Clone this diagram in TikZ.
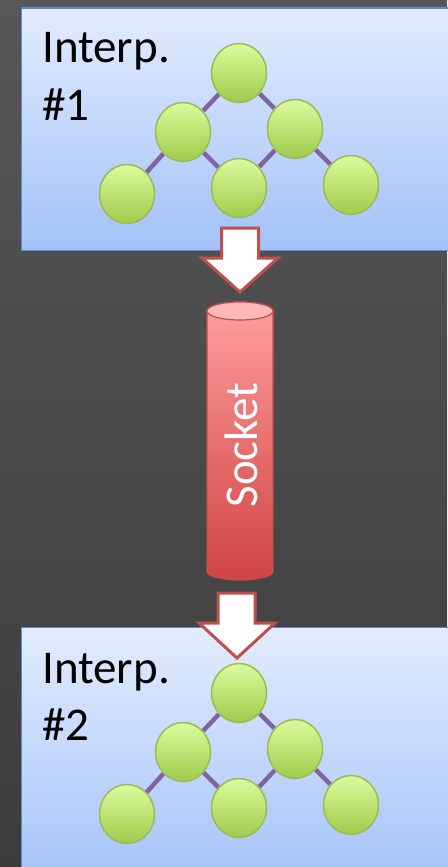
\documentclass[tikz,border=0pt]{standalone}
\usepackage{fontspec}
\setmainfont{Carlito}
\usetikzlibrary{shapes.geometric}
\pgfdeclarelayer{bglayer}
\pgfdeclarelayer{edgelayer}
\pgfsetlayers{bglayer,edgelayer,main}
\definecolor{bgtop}{HTML}{575757}
\definecolor{bgbot}{HTML}{3C3C3C}
\definecolor{boxtop}{HTML}{E2ECFE}
\definecolor{boxbot}{HTML}{A3C2F8}
\definecolor{boxline}{HTML}{5B8BD0}
\definecolor{balltop}{HTML}{DCFB9C}
\definecolor{ballbot}{HTML}{9FCB4C}
\definecolor{ballline}{HTML}{9BBB59}
\definecolor{edgecol}{HTML}{8064A2}
\definecolor{arrline}{HTML}{C0504D}
\definecolor{cyltop}{HTML}{FF9E9E}
\definecolor{cylbot}{HTML}{D04444}
\definecolor{cylcap}{HTML}{FFB8B8}
\tikzset{
  ball/.style={ellipse, draw=ballline, line width=1.5pt, top color=balltop, bottom color=ballbot, minimum width=55pt, minimum height=59pt, inner sep=0pt},
  treeedge/.style={draw=edgecol, line width=4.5pt},
  interpbox/.style={draw=boxline, line width=1.5pt, top color=boxtop, bottom color=boxbot},
  blockarrow/.style={draw=arrline, line width=3pt, fill=white, line join=miter},
  label/.style={font=\fontsize{47}{56}\selectfont, inner sep=0pt, anchor=base west},
}
\begin{document}
\begin{tikzpicture}[x=1pt,y=-1pt]
\useasboundingbox (0,0) rectangle (447,867);
\clip (0,0) rectangle (447,867);
\begin{pgfonlayer}{bglayer}
\shade[top color=bgtop, bottom color=bgbot] (0,0) rectangle (447,867);
\path[interpbox] (21.5,8) rectangle (470,250.5);
\path[interpbox] (21.5,627.5) rectangle (470,890);
\end{pgfonlayer}
% box 1
\node[label] (t1a) at (42,63) {Interp.};
\node[label] (t1b) at (42,120) {\#1};
\node[ball] (a1) at (239,73) {};
\node[ball] (b1) at (183,132) {};
\node[ball] (c1) at (295,129) {};
\node[ball] (d1) at (127,194) {};
\node[ball] (e1) at (239,188) {};
\node[ball] (f1) at (351,185) {};
% box 2
\node[label] (t2a) at (42,683) {Interp.};
\node[label] (t2b) at (42,740) {\#2};
\node[ball] (a2) at (239,693) {};
\node[ball] (b2) at (183,752) {};
\node[ball] (c2) at (295,749) {};
\node[ball] (d2) at (127,814) {};
\node[ball] (e2) at (239,808) {};
\node[ball] (f2) at (351,805) {};
\begin{pgfonlayer}{edgelayer}
\foreach \i in {1,2}{
  \draw[treeedge] (a\i) -- (b\i);
  \draw[treeedge] (a\i) -- (c\i);
  \draw[treeedge] (b\i) -- (d\i);
  \draw[treeedge] (b\i) -- (e\i);
  \draw[treeedge] (c\i) -- (e\i);
  \draw[treeedge] (c\i) -- (f\i);
}
\end{pgfonlayer}
% arrow 1
\draw[blockarrow] (221.5,228) -- (258.5,228) -- (258.5,258) -- (278,258) -- (240,292) -- (202,258) -- (221.5,258) -- cycle;
% cylinder
\shade[top color=cyltop, bottom color=cylbot, draw=arrline, line width=1.2pt]
  (207,311) -- (207,571) arc[start angle=180, end angle=360, x radius=33pt, y radius=9pt] -- (273,311) arc[start angle=0, end angle=180, x radius=33pt, y radius=9pt] -- cycle;
\draw[draw=arrline, line width=1.2pt, fill=cylcap] (240,311) ellipse[x radius=33pt, y radius=9pt];
\node[font=\fontsize{47}{56}\selectfont, text=white, rotate=90, inner sep=0pt] (sock) at (241,445) {Socket};
% arrow 2
\draw[blockarrow] (218,593) -- (255,593) -- (255,623) -- (275,623) -- (237,658) -- (199,623) -- (218,623) -- cycle;
\end{tikzpicture}
\end{document}
